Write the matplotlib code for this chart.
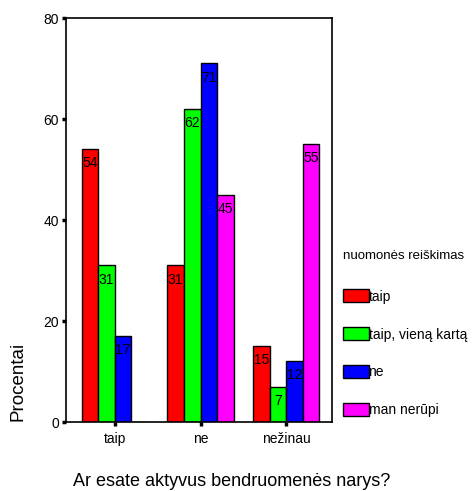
import numpy as np
import matplotlib
matplotlib.use("Agg")
from matplotlib import pyplot as plt

plt.rcParams['font.family'] = ['Liberation Sans', 'DejaVu Sans']

kategorijos = ["taip", "ne", "nežinau"]
serijos = ["taip", "taip, vieną kartą", "ne", "man nerūpi"]
spalvos = ["#ff0000", "#00ff00", "#0000ff", "#ff00ff"]

reiksmes = {
    "taip": [54, 31, 15],
    "taip, vieną kartą": [31, 62, 7],
    "ne": [17, 71, 12],
    "man nerūpi": [0, 45, 55],
}

fig = plt.figure(figsize=(4.77, 4.91), dpi=100)
ax = fig.add_axes([0.1384, 0.1405, 0.5576, 0.8228])

x = np.arange(len(kategorijos))
plotis = 0.194
for i, (serija, spalva) in enumerate(zip(serijos, spalvos)):
    poslinkis = (i - 1.5) * plotis
    stulp = ax.bar(x + poslinkis, reiksmes[serija], plotis, color=spalva,
                   edgecolor="black", linewidth=1, label=serija)
    for st, v in zip(stulp, reiksmes[serija]):
        if v > 0:
            ax.annotate(f"{v:.0f}", (st.get_x() + st.get_width() / 2, v),
                        xytext=(0, -13), textcoords="offset points",
                        ha="center", va="baseline", fontsize=10)

ax.set_xlim(-0.57, 2.535)
ax.set_ylim(0, 80)
ax.set_yticks([0, 20, 40, 60, 80])
ax.set_xticks(x)
ax.set_xticklabels(kategorijos, fontsize=10)
ax.tick_params(axis="y", labelsize=10, length=3, width=2.5, pad=2)
ax.tick_params(axis="x", length=3, width=2.5, pad=4)
for s in ax.spines.values():
    s.set_linewidth(1.2)

fig.text(18 / 477, 1 - 381 / 491, "Procentai", rotation=90, ha="center",
         va="center", fontsize=13.5)
fig.text(232 / 477, 1 - 482 / 491, "Ar esate aktyvus bendruomenės narys?",
         ha="center", va="center", fontsize=13)

leg = ax.legend(loc="upper left", bbox_to_anchor=(337 / 477, 1 - 244 / 491),
                bbox_transform=fig.transFigure, frameon=False,
                title="nuomonės reiškimas", title_fontsize=9.5,
                alignment="left", fontsize=10, handlelength=1.87,
                handleheight=1.08, handletextpad=0.0, labelspacing=1.7,
                borderaxespad=0)
leg._legend_box.sep = 20

fig.savefig("out.png", dpi=100)
